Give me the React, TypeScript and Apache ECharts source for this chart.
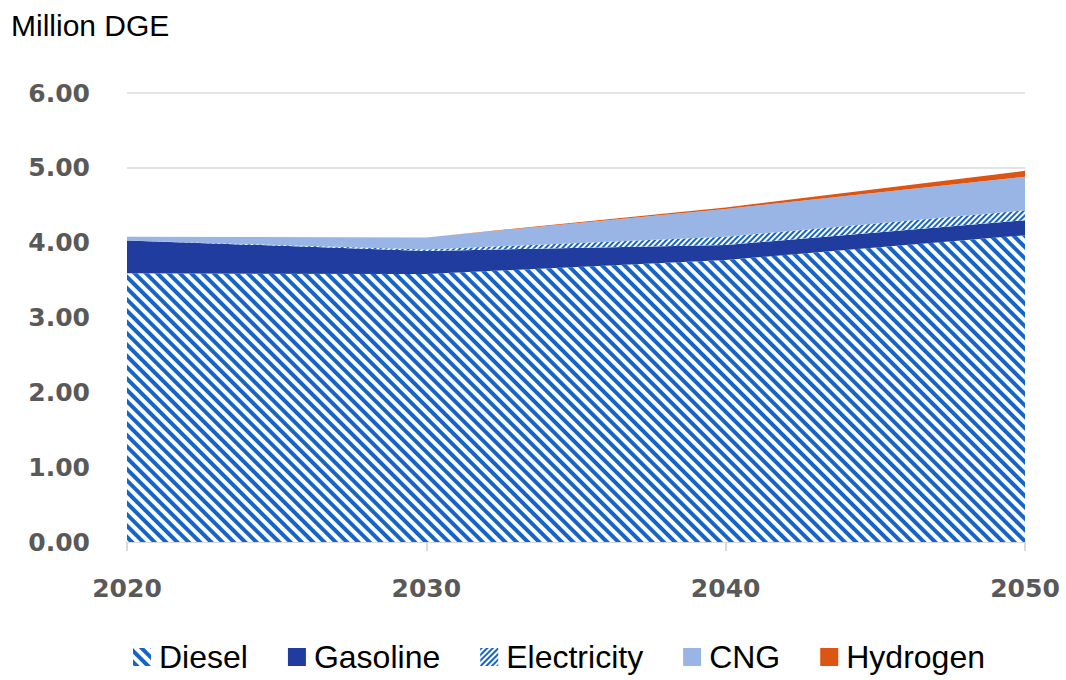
import React, { useEffect, useRef } from "react";
import * as echarts from "echarts";

const years = ["2020", "2030", "2040", "2050"];
const diesel = [3.59, 3.58, 3.77, 4.1];
const gasoline = [0.44, 0.31, 0.2, 0.2];
const electricity = [0.0, 0.02, 0.11, 0.13];
const cng = [0.05, 0.16, 0.37, 0.45];
const hydrogen = [0.0, 0.0, 0.02, 0.08];

const HATCH = "#1565c8";

export default function App() {
  const ref = useRef<HTMLDivElement>(null);
  useEffect(() => {
    if (!ref.current) return;
    const chart = echarts.init(ref.current, null, { renderer: "svg" });
    const base = {
      type: "line",
      stack: "total",
      showSymbol: false,
      symbol: "none",
      lineStyle: { width: 0 },
      smooth: false,
    };
    const dieselDecal = {
      symbol: "rect",
      color: HATCH,
      dashArrayX: [1, 0],
      dashArrayY: [4, 4],
      rotation: Math.PI / 4,
    };
    const elecDecal = {
      symbol: "rect",
      color: HATCH,
      dashArrayX: [1, 0],
      dashArrayY: [2, 2],
      rotation: -Math.PI / 4,
    };
    chart.setOption({
      animation: false,
      backgroundColor: "#ffffff",
      title: {
        text: "Million DGE",
        left: 6,
        top: 5,
        textStyle: {
          fontFamily: "Liberation Sans",
          fontSize: 30,
          fontWeight: "normal",
          color: "#000000",
        },
      },
      grid: { left: 127, right: 41, top: 93, bottom: 138 },
      xAxis: {
        type: "category",
        data: years,
        boundaryGap: false,
        axisLine: { lineStyle: { color: "#d9d9d9", width: 2 } },
        axisTick: { show: true, length: 9, lineStyle: { color: "#d9d9d9", width: 2 } },
        axisLabel: {
          margin: 34,
          fontFamily: "DejaVu Sans",
          fontWeight: "bold",
          fontSize: 25,
          color: "#595959",
        },
        splitLine: { show: false },
      },
      yAxis: {
        type: "value",
        min: 0,
        max: 6,
        interval: 1,
        axisLine: { show: false },
        axisTick: { show: false },
        axisLabel: {
          margin: 37,
          formatter: (v: number) => v.toFixed(2),
          fontFamily: "DejaVu Sans",
          fontWeight: "bold",
          fontSize: 25,
          color: "#595959",
        },
        splitLine: { lineStyle: { color: "#e3e3e3", width: 2 } },
      },
      legend: {
        bottom: 2,
        left: 128,
        itemWidth: 18,
        itemHeight: 18,
        itemGap: 40,
        icon: "rect",
        textStyle: {
          fontFamily: "Liberation Sans",
          fontSize: 32,
          color: "#000000",
          padding: [0, 0, 0, 3],
        },
        data: ["Diesel", "Gasoline", "Electricity", "CNG", "Hydrogen"],
      },
      series: [
        {
          ...base,
          name: "Diesel",
          data: diesel,
          itemStyle: { color: "#ffffff", decal: dieselDecal },
          areaStyle: { color: "#ffffff", opacity: 1, decal: dieselDecal },
        },
        {
          ...base,
          name: "Gasoline",
          data: gasoline,
          itemStyle: { color: "#1f3c9e" },
          areaStyle: { color: "#1f3c9e", opacity: 1 },
        },
        {
          ...base,
          name: "Electricity",
          data: electricity,
          itemStyle: { color: "#ffffff", decal: elecDecal },
          areaStyle: { color: "#ffffff", opacity: 1, decal: elecDecal },
        },
        {
          ...base,
          name: "CNG",
          data: cng,
          itemStyle: { color: "#99b5e6" },
          areaStyle: { color: "#99b5e6", opacity: 1 },
        },
        {
          ...base,
          name: "Hydrogen",
          data: hydrogen,
          itemStyle: { color: "#dd5512" },
          areaStyle: { color: "#dd5512", opacity: 1 },
        },
      ],
    });
    return () => chart.dispose();
  }, []);
  return (
    <div
      ref={ref}
      style={{ position: "fixed", left: 0, top: 0, width: 1066, height: 680 }}
    />
  );
}
